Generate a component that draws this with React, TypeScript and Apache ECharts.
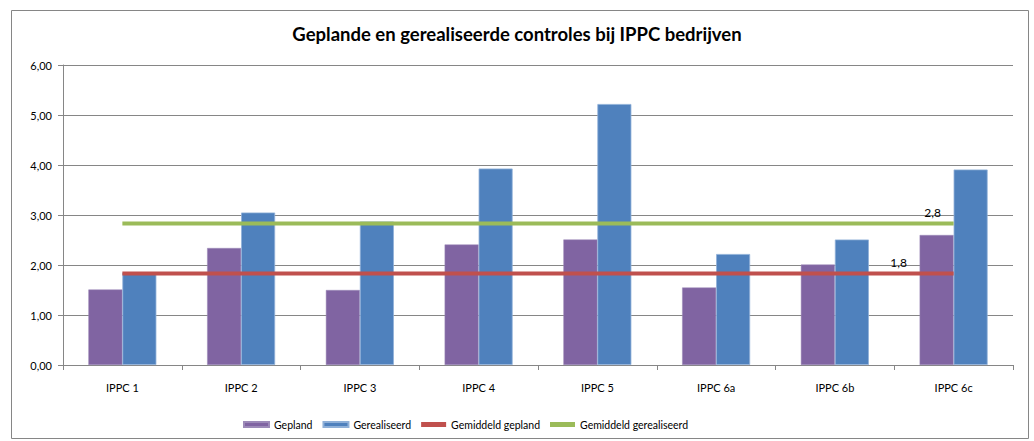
import React, { useEffect, useRef } from "react";
import * as echarts from "echarts";

const categories = ["IPPC 1", "IPPC 2", "IPPC 3", "IPPC 4", "IPPC 5", "IPPC 6a", "IPPC 6b", "IPPC 6c"];
const gepland = [1.51, 2.34, 1.5, 2.41, 2.51, 1.55, 2.01, 2.6];
const gerealiseerd = [1.85, 3.05, 2.87, 3.93, 5.22, 2.22, 2.51, 3.91];
const gemiddeldGepland = 1.83;
const gemiddeldGerealiseerd = 2.83;
const yTicks = [0, 1, 2, 3, 4, 5, 6];

const FONT = "Lato, 'Open Sans', sans-serif";

function avgLine(value: number, labelText: string, offsetX: number) {
  return categories.map((_, i) =>
    i === categories.length - 1
      ? {
          value,
          label: {
            show: true,
            formatter: labelText,
            position: "top",
            offset: [offsetX, 0],
            color: "#000",
            fontSize: 12,
            fontFamily: FONT,
          },
        }
      : value
  );
}

export default function App() {
  const ref = useRef<HTMLDivElement>(null);
  useEffect(() => {
    const chart = echarts.init(ref.current!, null, { renderer: "svg" });
    chart.setOption({
      animation: false,
      backgroundColor: "#fff",
      textStyle: { fontFamily: FONT },
      title: {
        text: "Geplande en gerealiseerde controles bij IPPC bedrijven",
        left: "center",
        top: 19,
        textStyle: { fontSize: 18.5, fontWeight: "bold", color: "#000", fontFamily: FONT },
      },
      graphic: [
        {
          type: "rect",
          shape: { x: 11.5, y: 10.5, width: 1017, height: 428 },
          style: { fill: "none", stroke: "#868686", lineWidth: 1 },
          silent: true,
        },
      ],
      legend: {
        bottom: 11,
        left: 243,
        padding: 0,
        itemWidth: 25,
        itemHeight: 5,
        itemGap: 10,
        textStyle: { fontSize: 10.5, color: "#000", fontFamily: FONT },
        data: [
          { name: "Gepland", icon: "rect" },
          { name: "Gerealiseerd", icon: "rect" },
          { name: "Gemiddeld gepland", icon: "rect" },
          { name: "Gemiddeld gerealiseerd", icon: "rect" },
        ],
      },
      grid: { left: 63, right: 21, top: 65, bottom: 76, containLabel: false },
      xAxis: {
        type: "category",
        data: categories,
        axisLine: { lineStyle: { color: "#868686", width: 1 } },
        axisTick: { show: true, length: 5, lineStyle: { color: "#868686" } },
        axisLabel: { color: "#000", fontSize: 11, margin: 17, fontFamily: FONT },
      },
      yAxis: {
        type: "value",
        min: yTicks[0],
        max: yTicks[yTicks.length - 1],
        interval: 1,
        axisLine: { show: true, lineStyle: { color: "#868686", width: 1 } },
        axisTick: { show: true, length: 5, lineStyle: { color: "#868686" } },
        splitLine: { lineStyle: { color: "#868686", width: 1 } },
        axisLabel: {
          color: "#000",
          fontSize: 11,
          margin: 11,
          fontFamily: FONT,
          formatter: (v: number) => v.toFixed(2).replace(".", ","),
        },
      },
      series: [
        {
          name: "Gepland",
          type: "bar",
          data: gepland,
          barWidth: 34,
          barGap: "0%",
          itemStyle: { color: "#8064A2", borderColor: "#9C8AB8", borderWidth: 0.5 },
        },
        {
          name: "Gerealiseerd",
          type: "bar",
          data: gerealiseerd,
          barWidth: 34,
          barGap: "0%",
          itemStyle: { color: "#4F81BD", borderColor: "#8FB0D8", borderWidth: 0.8 },
        },
        {
          name: "Gemiddeld gepland",
          type: "line",
          data: avgLine(gemiddeldGepland, "1,8", -55),
          symbol: "circle",
          symbolSize: 0,
          showSymbol: true,
          lineStyle: { color: "#C0504D", width: 4 },
          itemStyle: { color: "#C0504D" },
          z: 5,
        },
        {
          name: "Gemiddeld gerealiseerd",
          type: "line",
          data: avgLine(gemiddeldGerealiseerd, "2,8", -21),
          symbol: "circle",
          symbolSize: 0,
          showSymbol: true,
          lineStyle: { color: "#9BBB59", width: 4 },
          itemStyle: { color: "#9BBB59" },
          z: 5,
        },
      ],
    });
    return () => chart.dispose();
  }, []);
  return (
    <div
      ref={ref}
      style={{ position: "fixed", left: 0, top: 0, width: 1034, height: 441 }}
    />
  );
}
